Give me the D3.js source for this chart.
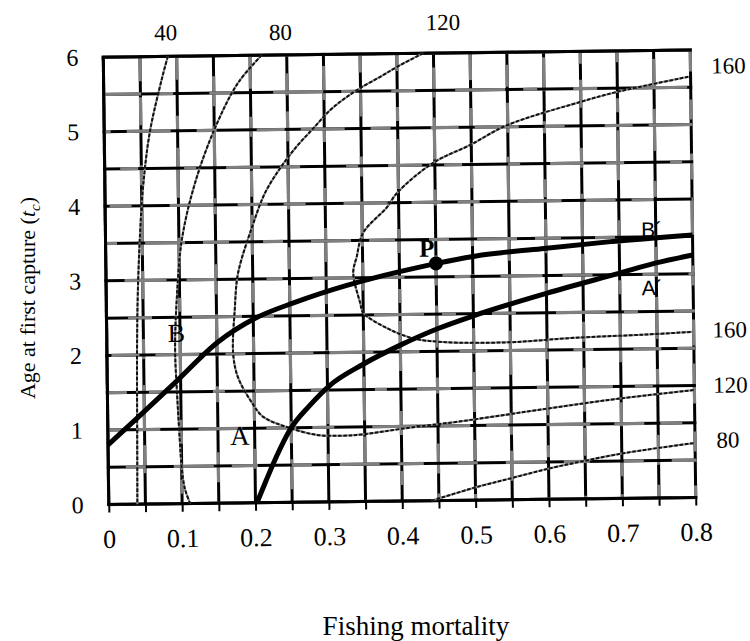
<!DOCTYPE html>
<html>
<head>
<meta charset="utf-8">
<script src="https://cdn.jsdelivr.net/npm/d3@7"></script>
<style>
  body { margin: 0; background: #fff; }
  svg text { font-family: "Liberation Serif", "Times New Roman", serif; fill: #000; }
</style>
</head>
<body>
<svg id="chart" width="750" height="641"></svg>
<script>
// Axis ticks: fishing mortality F and age at first capture tc
const fTicks = [0, 0.1, 0.2, 0.3, 0.4, 0.5, 0.6, 0.7, 0.8];
const tcTicks = [0, 1, 2, 3, 4, 5, 6];
const fGrid = [0, 0.05, 0.1, 0.15, 0.2, 0.25, 0.3, 0.35, 0.4, 0.45, 0.5, 0.55, 0.6, 0.65, 0.7, 0.75, 0.8];
const tcGrid = [0, 0.5, 1, 1.5, 2, 2.5, 3, 3.5, 4, 4.5, 5, 5.5, 6];

// Yield isopleths, points as [F, tc]
const iso40 = [[0.088, 6.0], [0.080, 5.72], [0.062, 4.98], [0.052, 4.25], [0.047, 3.6], [0.043, 2.8], [0.041, 2.0], [0.040, 1.0], [0.039, 0]];
const iso80Left = [[0.216, 6.0], [0.183, 5.63], [0.151, 5.03], [0.123, 4.30], [0.104, 3.54], [0.096, 2.73], [0.093, 2.07], [0.095, 1.46], [0.098, 0.83], [0.100, 0.48], [0.104, 0.2], [0.111, 0]];
const iso80Right = [[0.44, 0], [0.50, 0.17], [0.55, 0.29], [0.60, 0.41], [0.65, 0.51], [0.70, 0.60], [0.75, 0.67], [0.80, 0.73]];
const iso120 = [[0.436, 6.0], [0.400, 5.82], [0.377, 5.69], [0.349, 5.54], [0.326, 5.39], [0.308, 5.25], [0.285, 5.01], [0.262, 4.77], [0.239, 4.48], [0.218, 4.15], [0.200, 3.70], [0.180, 3.08], [0.175, 2.6], [0.172, 2.01], [0.178, 1.69], [0.197, 1.34], [0.212, 1.15], [0.244, 1.01], [0.285, 0.90], [0.320, 0.885], [0.348, 0.90], [0.402, 0.97], [0.49, 1.07], [0.603, 1.22], [0.70, 1.34], [0.80, 1.44]];
const iso160 = [[0.797, 5.64], [0.700, 5.45], [0.649, 5.32], [0.549, 5.02], [0.498, 4.76], [0.448, 4.53], [0.398, 4.13], [0.384, 3.94], [0.351, 3.60], [0.342, 3.28], [0.337, 3.07], [0.346, 2.66], [0.350, 2.53], [0.382, 2.32], [0.417, 2.18], [0.457, 2.125], [0.547, 2.11], [0.638, 2.16], [0.730, 2.19], [0.798, 2.22]];

// Eumetric lines B–B′ and A–A′
const lineB = [[0, 0.8], [0.042, 1.17], [0.092, 1.62], [0.152, 2.165], [0.202, 2.47], [0.257, 2.68], [0.328, 2.90], [0.367, 3.0], [0.426, 3.13], [0.451, 3.18], [0.503, 3.27], [0.594, 3.36], [0.685, 3.44], [0.80, 3.52]];
const lineA = [[0.202, 0], [0.215, 0.30], [0.230, 0.63], [0.248, 0.97], [0.275, 1.29], [0.303, 1.56], [0.349, 1.84], [0.400, 2.09], [0.450, 2.30], [0.500, 2.47], [0.600, 2.76], [0.700, 3.02], [0.750, 3.15], [0.800, 3.25]];

// Point P on B–B′
const pointP = [0.45, 3.18];

const svg = d3.select("#chart");

const x = d3.scaleLinear().domain([0, 0.8]).range([106, 693]);
const y = d3.scaleLinear().domain([0, 6]).range([501, 53.5]);

// The whole plate sits with a slight tilt
const g = svg.append("g").attr("transform", "rotate(-0.7, 400, 277)");

// Grid: black pen lines with grey passages
const grayDash = ["34 22 18 46 12 30", "20 40 28 16 44 26", "50 18 14 36 24 40", "16 30 42 20 30 50", "26 34 20 28 40 18", "44 24 30 16 22 38"];
const gridG = g.append("g");
fGrid.forEach((v, i) => {
  gridG.append("line")
    .attr("x1", x(v)).attr("x2", x(v))
    .attr("y1", y(0)).attr("y2", y(6))
    .attr("stroke", "#000").attr("stroke-width", 3);
  gridG.append("line")
    .attr("x1", x(v)).attr("x2", x(v))
    .attr("y1", y(0)).attr("y2", y(6))
    .attr("stroke", "#808080").attr("stroke-width", 3.2)
    .attr("stroke-dasharray", grayDash[i % grayDash.length])
    .attr("stroke-dashoffset", (i * 29) % 90);
});
tcGrid.forEach((v, i) => {
  gridG.append("line")
    .attr("x1", x(0) - 1.5).attr("x2", x(0.8) + 1.5)
    .attr("y1", y(v)).attr("y2", y(v))
    .attr("stroke", "#000").attr("stroke-width", 3);
  gridG.append("line")
    .attr("x1", x(0) - 1.5).attr("x2", x(0.8) + 1.5)
    .attr("y1", y(v)).attr("y2", y(v))
    .attr("stroke", "#808080").attr("stroke-width", 3.2)
    .attr("stroke-dasharray", grayDash[(i + 3) % grayDash.length])
    .attr("stroke-dashoffset", (i * 41) % 110);
});
// Borders stay black
[0, 6].forEach(v => gridG.append("line")
  .attr("x1", x(0) - 1.5).attr("x2", x(0.8) + 1.5).attr("y1", y(v)).attr("y2", y(v))
  .attr("stroke", "#000").attr("stroke-width", 3));
gridG.append("line").attr("x1", x(0)).attr("x2", x(0)).attr("y1", y(0)).attr("y2", y(6))
  .attr("stroke", "#000").attr("stroke-width", 3);

// X axis: small ticks every 0.05, labels every 0.1
const xAxis = d3.axisBottom(x)
  .tickValues(fGrid)
  .tickSize(8)
  .tickPadding(17)
  .tickFormat(d => fTicks.some(t => Math.abs(t - d) < 1e-9) ? d3.format("")(+d.toFixed(1)) : "");
const xg = g.append("g").attr("transform", `translate(0,${y(0)})`).call(xAxis);
xg.select(".domain").remove();
xg.selectAll(".tick line").attr("stroke", "#000").attr("stroke-width", 2);
xg.selectAll(".tick text").style("font-size", "26px").style("font-family", "Liberation Serif, serif").attr("fill", "#000");

// Y axis labels
const yAxis = d3.axisLeft(y).tickValues(tcTicks).tickSize(0).tickPadding(25).tickFormat(d3.format("d"));
const yg = g.append("g").attr("transform", `translate(${x(0)},0)`).call(yAxis);
yg.select(".domain").remove();
yg.selectAll(".tick text").style("font-size", "24px").style("font-family", "Liberation Serif, serif").attr("fill", "#000");

// Isopleths
const curve = d3.line().x(d => x(d[0])).y(d => y(d[1])).curve(d3.curveCatmullRom.alpha(0.5));
const isoG = g.append("g").attr("fill", "none");
[iso40, iso80Left, iso80Right, iso120, iso160].forEach(pts => {
  isoG.append("path").attr("d", curve(pts)).attr("stroke", "#8a8a8a").attr("stroke-width", 2);
  isoG.append("path").attr("d", curve(pts)).attr("stroke", "#111").attr("stroke-width", 2)
    .attr("stroke-dasharray", "3.5 1.8");
});

// Isopleth value labels
const isoLabels = [
  { text: "40",  px: x(iso40[0][0]) - 2,  py: y(6) - 16 },
  { text: "80",  px: x(iso80Left[0][0]) + 19, py: y(6) - 15 },
  { text: "120", px: x(iso120[0][0]) + 20, py: y(6) - 23 },
  { text: "160", px: x(0.8) + 38, py: y(iso160[0][1]) - 3 },
  { text: "160", px: x(0.8) + 36, py: y(iso160[iso160.length - 1][1]) + 6 },
  { text: "120", px: x(0.8) + 36, py: y(iso120[iso120.length - 1][1]) + 3 },
  { text: "80",  px: x(0.8) + 33, py: y(iso80Right[iso80Right.length - 1][1]) + 5 }
];
g.append("g").selectAll("text").data(isoLabels).join("text")
  .attr("x", d => d.px).attr("y", d => d.py)
  .attr("text-anchor", "middle")
  .style("font-size", "23px")
  .text(d => d.text);

// Thick lines
const thick = d3.line().x(d => x(d[0])).y(d => y(d[1])).curve(d3.curveMonotoneX);
g.append("path").attr("d", thick(lineB)).attr("fill", "none").attr("stroke", "#000").attr("stroke-width", 5);
g.append("path").attr("d", thick(lineA)).attr("fill", "none").attr("stroke", "#000").attr("stroke-width", 5);

// Point P
g.append("circle").attr("cx", x(pointP[0])).attr("cy", y(pointP[1])).attr("r", 7).attr("fill", "#000");
g.append("text").attr("x", x(0.4375)).attr("y", y(3.27)).attr("text-anchor", "middle")
  .style("font-size", "25px").style("font-weight", "bold").text("P");

// Line end labels
g.append("text").attr("x", x(0.095)).attr("y", y(2.17)).attr("text-anchor", "middle")
  .style("font-size", "26px").text("B");
g.append("text").attr("x", x(0.18)).attr("y", y(0.78)).attr("text-anchor", "middle")
  .style("font-size", "27px").text("A");
g.append("text").attr("x", x(0.73)).attr("y", y(3.50))
  .style("font-size", "21px").style("font-family", "Liberation Sans, Arial, sans-serif").text("B\u00B4");
g.append("text").attr("x", x(0.73)).attr("y", y(2.72))
  .style("font-size", "21px").style("font-family", "Liberation Sans, Arial, sans-serif").text("A\u00B4");

// Axis titles
svg.append("text")
  .attr("transform", "translate(35,298) rotate(-90)")
  .attr("text-anchor", "middle")
  .style("font-size", "22px")
  .call(t => {
    t.append("tspan").text("Age at first capture (");
    t.append("tspan").style("font-style", "italic").text("t");
    t.append("tspan").style("font-style", "italic").style("font-size", "15px").attr("dy", 5).text("c");
    t.append("tspan").attr("dy", -5).text(")");
  });

svg.append("text")
  .attr("x", 416).attr("y", 635)
  .attr("text-anchor", "middle")
  .style("font-size", "27px")
  .text("Fishing mortality");
</script>
</body>
</html>
